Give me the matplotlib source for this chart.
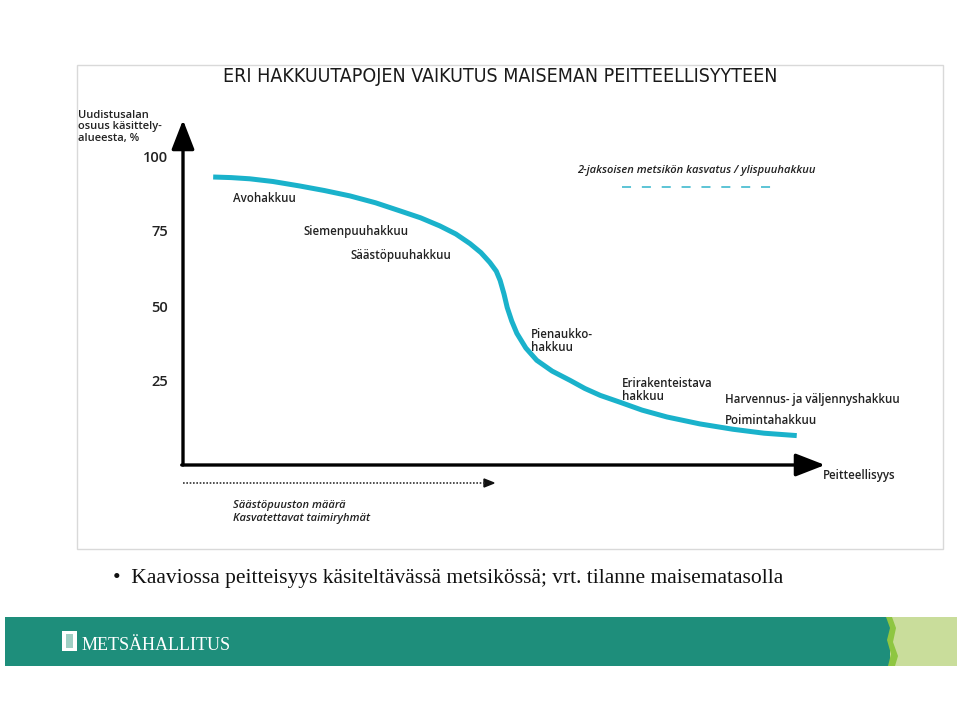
import matplotlib
matplotlib.use("Agg")
import matplotlib.pyplot as plt
from matplotlib import font_manager
from matplotlib.patches import Rectangle, Polygon

# ---- data ----
cover_x = [4.7, 7.5, 10.4, 14.0, 18.2, 22.0, 26.0, 30.0, 33.8, 37.0, 40.0, 42.5, 44.7,
           46.4, 47.8, 48.8, 49.4, 50.0, 50.5, 51.2, 52.0, 53.4, 55.1, 57.5, 60.3,
           62.6, 65.0, 68.1, 71.5, 75.4, 80.5, 85.7, 90.5, 95.6]
share_y = [93.0, 92.8, 92.4, 91.5, 90.0, 88.5, 86.7, 84.4, 81.7, 79.4, 76.7, 74.0, 70.8,
           67.8, 64.5, 61.6, 58.5, 54.0, 49.5, 45.0, 40.9, 36.0, 31.9, 28.3, 25.2,
           22.5, 20.2, 17.9, 15.3, 13.0, 10.7, 8.9, 7.6, 6.8]
y_ticks = [25, 50, 75, 100]
method_labels = ["Avohakkuu", "Siemenpuuhakkuu", "Säästöpuuhakkuu",
                 "Pienaukko-\nhakkuu", "Erirakenteistava\nhakkuu",
                 "Harvennus- ja väljennyshakkuu", "Poimintahakkuu"]
title = "ERI HAKKUUTAPOJEN VAIKUTUS MAISEMAN PEITTEELLISYYTEEN"
y_label = "Uudistusalan\nosuus käsittely-\nalueesta, %"
x_label = "Peitteellisyys"
two_phase = "2-jaksoisen metsikön kasvatus / ylispuuhakkuu"
bottom_note = "Säästöpuuston määrä\nKasvatettavat taimiryhmät"
bullet = "•  Kaaviossa peitteisyys käsiteltävässä metsikössä; vrt. tilanne maisematasolla"
brand = "METSÄHALLITUS"

# condensed, regular-weight font for the title if available
cond = None
for f in font_manager.fontManager.ttflist:
    name_ok = ("Condensed" in f.name or "Narrow" in f.name or
               f.stretch in ("condensed", "semi-condensed"))
    w = f.weight if isinstance(f.weight, int) else 400
    if name_ok and f.style == "normal" and w <= 500:
        cond = f
        break

W, H = 960, 714
fig = plt.figure(figsize=(9.6, 7.14), dpi=100)
fig.patch.set_facecolor("white")

ov = fig.add_axes([0, 0, 1, 1])
ov.set_xlim(0, W)
ov.set_ylim(H, 0)
ov.axis("off")

# chart frame
ov.add_patch(Rectangle((77, 65), 866, 484, fill=False, ec="#d9d9d9", lw=1.0))

# title
if cond is not None:
    tt = ov.text(500, 77, title, ha="center", va="center",
                 fontproperties=font_manager.FontProperties(fname=cond.fname, size=15),
                 color="#1a1a1a")
else:
    tt = ov.text(500, 77, title, ha="center", va="center", fontsize=12.5,
                 family="Roboto", color="#1a1a1a")
# fit title to width of ~555 px
fig.canvas.draw()
bb = tt.get_window_extent()
sz = tt.get_fontsize() * 555.0 / bb.width
tt.set_fontsize(min(sz, 17))

lblfont = dict(family="Open Sans", fontsize=8.3, weight="semibold", color="#222222")
ov.text(78, 127, y_label, ha="left", va="center", linespacing=1.05,
        family="Open Sans", fontsize=8, weight="semibold", color="#222222")

# main axes
L, R, T, B = 183, 825, 120, 465
ax = fig.add_axes([L / W, 1 - B / H, (R - L) / W, (B - T) / H])
ax.set_xlim(0, 100)
ax.set_ylim(-3, 112)
ax.patch.set_alpha(0)
for s in ax.spines.values():
    s.set_visible(False)
ax.set_xticks([])
ax.set_yticks(y_ticks)
ax.set_yticklabels([str(v) for v in y_ticks], family="Open Sans", fontsize=10.5,
                   weight="semibold", color="#222222")
ax.tick_params(axis="y", length=0, pad=10.5)

arrow = dict(arrowstyle="-|>,head_length=0.9,head_width=0.35", lw=2.4,
             color="black", shrinkA=0, shrinkB=0, mutation_scale=20)
ax.annotate("", xy=(0, 112), xytext=(0, -3), arrowprops=arrow, annotation_clip=False)
ax.annotate("", xy=(100, -3), xytext=(-0.2, -3), arrowprops=arrow, annotation_clip=False)

# the curve
ax.plot(cover_x, share_y, color="#1ab2cb", lw=3.6, solid_capstyle="butt",
        solid_joinstyle="round", clip_on=False)

# method labels
lpos = [(233, 199), (303, 232), (350, 256), (531, 341), (622, 390), (725, 399), (725, 421)]
for (px, py), t in zip(lpos, method_labels):
    ov.text(px, py, t, ha="left", va="center", linespacing=1.0, **lblfont)

ov.text(823, 475, x_label, ha="left", va="center", **lblfont)

# two-phase legend
ov.text(577, 171, two_phase, ha="left", va="center", family="Open Sans", fontsize=8,
        style="italic", weight="semibold", color="#222222")
ov.plot([622, 775], [187, 187], color="#4fbfd2", lw=1.3, dashes=(5, 6))

# dotted arrow under axis
ov.plot([183, 485], [483, 483], color="#333333", lw=1.2, ls=(0, (1, 1)))
ov.add_patch(Polygon([[484, 479], [494, 483], [484, 487]], closed=True, color="#111111"))
ov.text(233, 512, bottom_note, ha="left", va="center", family="Open Sans", fontsize=8,
        style="italic", weight="semibold", color="#222222", linespacing=1.25)

# bullet text
ov.text(113, 578, bullet, ha="left", va="center", family="Liberation Serif",
        fontsize=15.5, color="#111111")

# footer band
ov.add_patch(Rectangle((5, 617), 885, 49, color="#1e8e7b", lw=0))
ov.add_patch(Rectangle((890, 617), 67, 49, color="#c9dd9b", lw=0))
ov.add_patch(Polygon([[886, 617], [892, 617], [896, 628], [893, 642], [898, 656], [895, 666],
                      [888, 666], [891, 654], [887, 640], [890, 628]], closed=True,
                     color="#8ec641", lw=0))
ov.add_patch(Rectangle((62, 631), 15, 20, color="white", lw=0))
ov.add_patch(Rectangle((66, 634), 7, 14, color="#9fcfc4", lw=0))
ov.text(82, 645, brand, ha="left", va="center", family="Liberation Serif", fontsize=13,
        color="white")

fig.savefig("out.png", dpi=100, facecolor="white")
